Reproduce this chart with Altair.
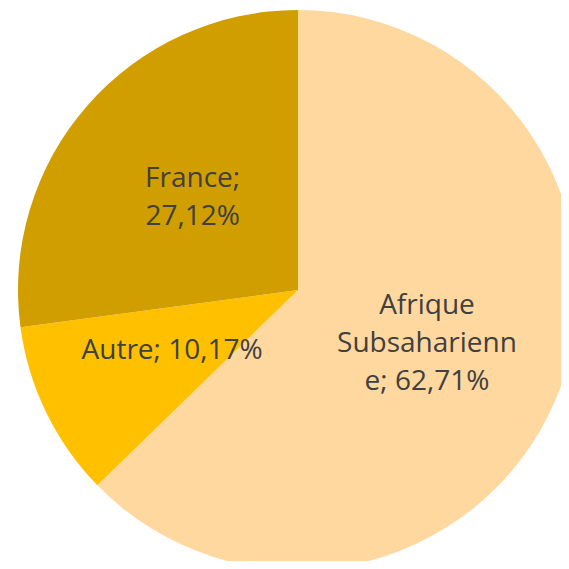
import altair as alt
import pandas as pd

categories = ["Afrique Subsaharienne", "Autre", "France"]
values = [62.71, 10.17, 27.12]
labels = ["Afrique\nSubsaharienn\ne; 62,71%", "Autre; 10,17%", "France;\n27,12%"]
colors = ["#FED89E", "#FFC000", "#D19E00"]

df = pd.DataFrame({
    "cat": categories,
    "value": values,
    "label": labels,
    "idx": list(range(len(categories))),
    "nlines": [lab.count("\n") + 1 for lab in labels],
})

LH = 38
CX, CY = 290, 282
total = sum(values)

pie = alt.Chart(df).mark_arc(outerRadius=280, stroke=None).encode(
    theta=alt.Theta("value:Q", stack=True, scale=alt.Scale(domain=[0, total])),
    order=alt.Order("idx:Q"),
    x=alt.value(CX),
    y=alt.value(CY),
    color=alt.Color("cat:N", scale=alt.Scale(domain=categories, range=colors), legend=None),
)

layers = [pie]
for n in sorted(set(df["nlines"])):
    t = alt.Chart(df).transform_window(
        cum="sum(value)", sort=[alt.SortField("idx")]
    ).transform_calculate(
        mid="datum.cum - datum.value / 2"
    ).transform_filter(
        alt.datum.nlines == n
    ).mark_text(
        radius=140,
        font="Open Sans",
        fontSize=28,
        color="#404040",
        lineBreak="\n",
        lineHeight=LH,
        align="center",
        baseline="middle",
        dy=-(n - 1) * LH / 2,
    ).encode(
        theta=alt.Theta("mid:Q", stack=None, scale=alt.Scale(domain=[0, total])),
        x=alt.value(CX),
        y=alt.value(CY),
        text="label:N",
    )
    layers.append(t)

chart = alt.layer(*layers).properties(
    width=553, height=553, autosize=alt.AutoSizeParams(type="none"), padding=0
).configure_view(stroke=None)

chart.save("out.html", embed_options={"renderer": "svg", "actions": False})
